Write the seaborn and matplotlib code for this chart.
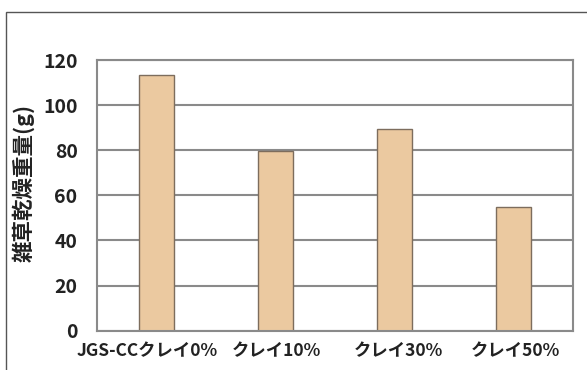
import matplotlib
matplotlib.use("Agg")
import matplotlib.pyplot as plt
import matplotlib.transforms as mtransforms
import seaborn as sns
import pandas as pd
from matplotlib.patches import Rectangle
from matplotlib.ticker import FixedLocator

categories = ["JGS-CCクレイ0%", "クレイ10%", "クレイ30%", "クレイ50%"]
values = [113.5, 79.5, 89.5, 55.0]
yticks = [0, 20, 40, 60, 80, 100, 120]
ylabel = "雑草乾燥重量(g)"

sns.set_style("white")
plt.rcParams['font.family'] = ['Noto Sans CJK JP', 'DejaVu Sans']

df = pd.DataFrame({"cat": categories, "val": values})

fig = plt.figure(figsize=(5.87, 3.70), dpi=100)
ax = fig.add_axes([97/587, 1-330.7/370, (573-97)/587, (330.7-60)/370])

sns.barplot(data=df, x="cat", y="val", ax=ax, color="#EBC9A0", width=0.29,
            edgecolor="#7d6d5d", linewidth=1.0, saturation=1)

ax.set_ylim(0, 120)
ax.set_xlim(-0.5, 3.5)
ax.set_yticks(yticks)
ax.set_yticklabels([str(v) for v in yticks], fontsize=14, fontweight="bold", color="#222222")
ax.set_xticks(range(len(categories)))
ax.set_xticklabels(categories, fontsize=12.5, fontweight="bold", color="#222222")
ax.xaxis.set_minor_locator(FixedLocator([0.5, 1.5, 2.5]))
ax.tick_params(axis="x", which="major", length=0, pad=8)
ax.tick_params(axis="x", which="minor", direction="in", length=4, width=1, color="#777777")
ax.tick_params(axis="y", length=0, pad=14)
ax.set_xlabel("")
ax.set_ylabel(ylabel, fontsize=15.5, fontweight="bold", color="#222222")
ax.yaxis.set_label_coords(-(97-35)/476, (330.7-183)/270.7)

ax.yaxis.grid(True, color="#8a8a8a", linewidth=1.5)
ax.set_axisbelow(True)
for side in ["left", "bottom", "right", "top"]:
    ax.spines[side].set_visible(True)
    ax.spines[side].set_color("#8a8a8a")
    ax.spines[side].set_linewidth(1.5)

fig.patches.append(Rectangle((6/587, -0.1), 1.0, 1-12/370+0.1, transform=fig.transFigure,
                             fill=False, edgecolor="#555555", linewidth=1.0, zorder=0))

fig.canvas.draw()
shifts = [-9, 1, 4, 2]
for tick, dx in zip(ax.xaxis.get_major_ticks(), shifts):
    lab = tick.label1
    lab.set_transform(lab.get_transform() + mtransforms.ScaledTranslation(dx/100, 0, fig.dpi_scale_trans))

fig.savefig("out.png", dpi=100)
